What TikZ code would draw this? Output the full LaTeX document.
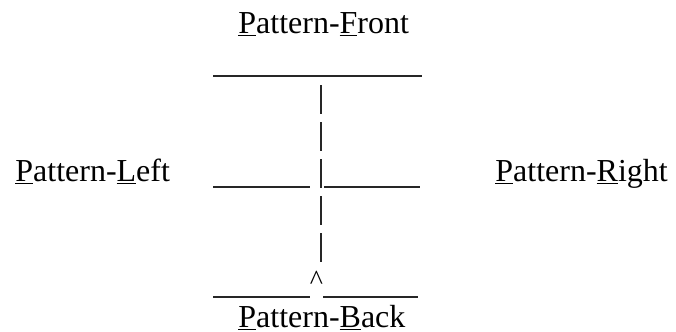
\documentclass[tikz,border=0pt]{standalone}
\usepackage{fontspec}
\setmainfont{Liberation Serif}
\usepackage{tikz}

\begin{document}
\begin{tikzpicture}[x=0.5pt,y=-0.5pt,
  lbl/.style={font=\fontsize{16}{18}\selectfont,inner sep=0pt,anchor=base west},
  bar/.style={draw=black!85,line width=0.9pt}]
\useasboundingbox (0,0) rectangle (676,332);
% labels
\node[lbl] (front) at (238,33) {\underline{P}attern-\underline{F}ront};
\node[lbl] (left) at (15,181) {\underline{P}attern-\underline{L}eft};
\node[lbl] (right) at (495,181) {\underline{P}attern-\underline{R}ight};
\node[lbl] (back) at (238,327) {\underline{P}attern-\underline{B}ack};
\node[lbl,font=\fontsize{14}{15}\selectfont,anchor=center] (caret) at (316.5,280)
  {\textasciicircum};
% horizontal strokes
\draw[bar] (213,76) -- (422,76);
\draw[bar] (213,187) -- (310,187);
\draw[bar] (324,187) -- (420,187);
\draw[bar] (213,297) -- (310,297);
\draw[bar] (323,297) -- (418,297);
% vertical strokes
\foreach \y in {85,122,159,196,233}
  \draw[bar] (321,\y) -- ++(0,28.5);
\end{tikzpicture}
\end{document}
